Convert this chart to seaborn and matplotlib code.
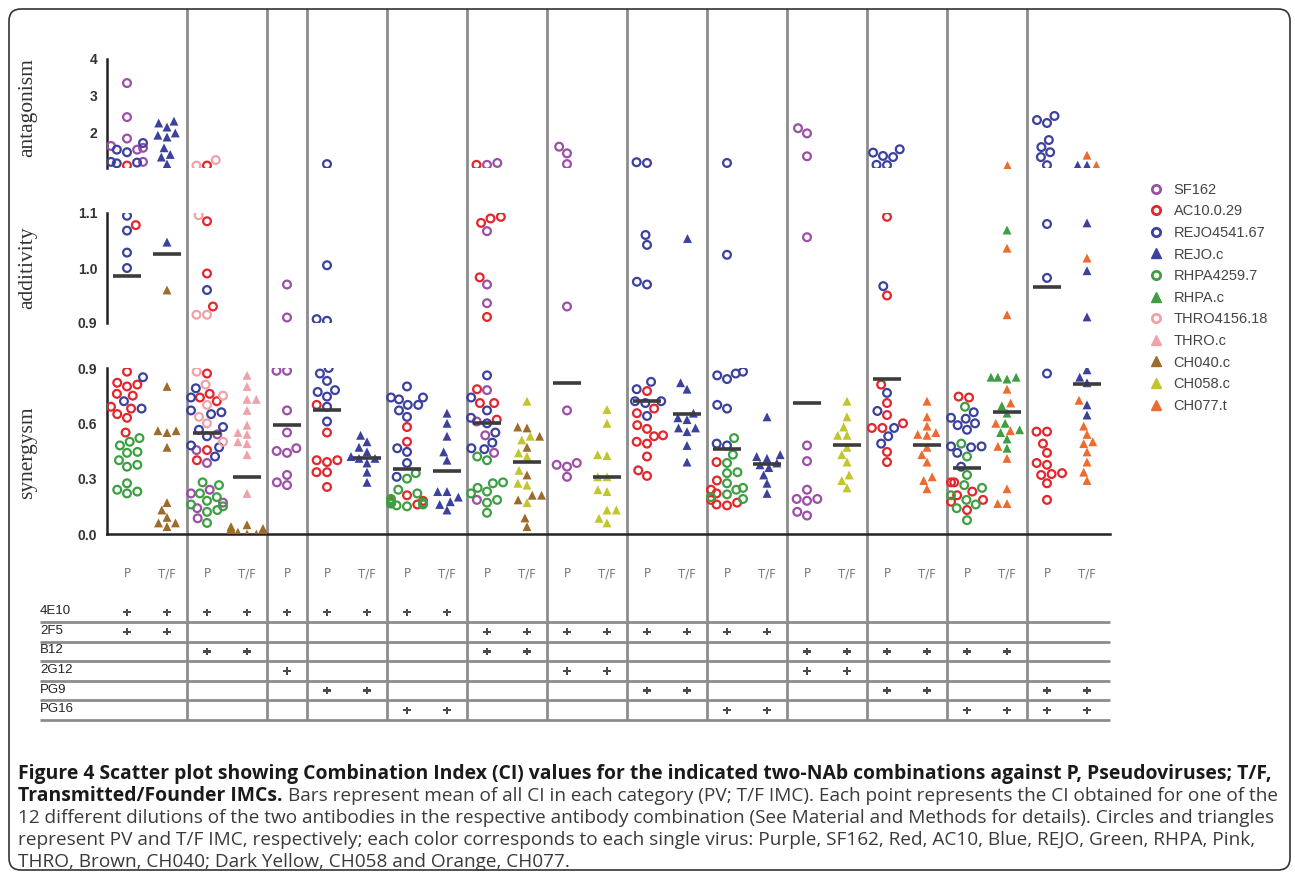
import numpy as np
import pandas as pd
import seaborn as sns
import matplotlib.pyplot as plt
from matplotlib.lines import Line2D
from matplotlib.patches import FancyBboxPatch
from matplotlib.ticker import MultipleLocator

# antibody pairs, left to right (False = pair has no T/F column)
combos = ["4E10+2F5", "4E10+B12", "4E10+2G12", "4E10+PG9", "4E10+PG16",
          "2F5+B12", "2F5+2G12", "2F5+PG9", "2F5+PG16",
          "B12+2G12", "B12+PG9", "B12+PG16", "PG9+PG16"]
has_tf = [True, True, False, True, True, True, True, True, True, True, True, True, True]
antibodies = ["4E10", "2F5", "B12", "2G12", "PG9", "PG16"]

# CI values, per virus and antibody pair
sf162 = {
    "4E10+2F5": [3.35, 2.43, 1.85, 1.65, 1.60, 1.55, 1.22],
    "4E10+B12": [0.54, 0.455, 0.385, 0.24, 0.22, 0.17, 0.14, 0.085],
    "4E10+2G12": [0.97, 0.91, 0.885, 0.885, 0.67, 0.55, 0.465, 0.45, 0.44, 0.32, 0.28, 0.265],
    "2F5+B12": [1.19, 1.14, 1.067, 0.97, 0.936, 0.78, 0.61, 0.535, 0.44, 0.185],
    "2F5+2G12": [1.63, 1.45, 1.16, 0.93, 0.67, 0.385, 0.375, 0.365, 0.31],
    "B12+2G12": [2.13, 1.99, 1.37, 1.056, 0.48, 0.395, 0.24, 0.19, 0.19, 0.18, 0.12, 0.10],
}
ac10 = {
    "4E10+2F5": [1.12, 1.078, 0.88, 0.82, 0.81, 0.80, 0.76, 0.75, 0.69, 0.68, 0.65, 0.63, 0.55],
    "4E10+B12": [1.12, 1.085, 0.99, 0.93, 0.87, 0.76, 0.74, 0.72, 0.455, 0.40],
    "4E10+PG9": [0.70, 0.55, 0.40, 0.39, 0.40, 0.335, 0.335, 0.255],
    "4E10+PG16": [0.58, 0.50, 0.21, 0.18, 0.17, 0.16, 0.17],
    "2F5+B12": [1.14, 1.09, 1.082, 1.093, 0.983, 0.911, 0.785, 0.71, 0.71, 0.62],
    "2F5+PG9": [0.775, 0.68, 0.655, 0.59, 0.57, 0.53, 0.535, 0.49, 0.50, 0.42, 0.345, 0.315],
    "2F5+PG16": [0.39, 0.29, 0.24, 0.22, 0.185, 0.17, 0.155, 0.16],
    "B12+PG9": [1.093, 0.95, 0.81, 0.71, 0.645, 0.60, 0.575, 0.575, 0.445, 0.39],
    "B12+PG16": [0.74, 0.745, 0.28, 0.28, 0.23, 0.21, 0.175, 0.185, 0.13],
    "PG9+PG16": [0.555, 0.555, 0.49, 0.44, 0.375, 0.385, 0.32, 0.33, 0.325, 0.275, 0.185],
}
rejo = {
    "4E10+2F5": [1.73, 1.55, 1.48, 1.22, 1.20, 1.18, 1.095, 1.068, 1.028, 1.0, 0.85, 0.72, 0.68],
    "4E10+B12": [0.96, 0.79, 0.74, 0.67, 0.66, 0.65, 0.58, 0.565, 0.53, 0.48, 0.47, 0.42],
    "4E10+PG9": [1.16, 1.005, 0.907, 0.904, 0.90, 0.87, 0.83, 0.78, 0.77, 0.745, 0.69, 0.61],
    "4E10+PG16": [0.80, 0.74, 0.74, 0.73, 0.70, 0.70, 0.67, 0.635, 0.465, 0.445, 0.385, 0.31],
    "2F5+B12": [0.86, 0.74, 0.67, 0.63, 0.60, 0.55, 0.495, 0.465, 0.46],
    "2F5+PG9": [1.21, 1.19, 1.06, 1.042, 0.975, 0.97, 0.825, 0.785, 0.72, 0.71, 0.72, 0.64],
    "2F5+PG16": [1.19, 1.024, 0.88, 0.87, 0.84, 0.86, 0.70, 0.68, 0.49, 0.48],
    "B12+PG9": [1.56, 1.47, 1.38, 1.35, 1.14, 1.13, 0.967, 0.765, 0.667, 0.53, 0.49, 0.575],
    "B12+PG16": [0.63, 0.625, 0.59, 0.565, 0.475, 0.47, 0.475, 0.44, 0.365, 0.60, 0.66],
    "PG9+PG16": [2.46, 2.35, 2.27, 1.81, 1.62, 1.48, 1.35, 1.13, 1.08, 0.982, 0.87],
}
rhpa = {
    "4E10+2F5": [0.52, 0.50, 0.48, 0.445, 0.44, 0.40, 0.375, 0.365, 0.275, 0.24, 0.23, 0.22],
    "4E10+B12": [0.28, 0.265, 0.22, 0.18, 0.16, 0.15, 0.06, 0.20, 0.13, 0.12],
    "4E10+PG16": [0.33, 0.30, 0.24, 0.22, 0.18, 0.17, 0.16, 0.15, 0.155, 0.19, 0.165],
    "2F5+B12": [0.42, 0.40, 0.28, 0.275, 0.23, 0.22, 0.185, 0.115, 0.25, 0.17],
    "2F5+PG16": [0.52, 0.43, 0.385, 0.33, 0.335, 0.275, 0.24, 0.25, 0.215, 0.20, 0.19],
    "B12+PG16": [0.69, 0.49, 0.42, 0.32, 0.265, 0.25, 0.185, 0.14, 0.075, 0.21, 0.16],
}
thro = {
    "4E10+B12": [1.27, 1.12, 1.096, 0.915, 0.915, 0.88, 0.81, 0.75, 0.70, 0.635, 0.60, 0.50],
}
rejo_c = {
    "4E10+2F5": [2.32, 2.27, 2.16, 2.0, 1.94, 1.89, 1.6, 1.42, 1.35, 1.16, 1.047],
    "4E10+PG9": [0.535, 0.50, 0.47, 0.445, 0.42, 0.41, 0.41, 0.385, 0.335, 0.28],
    "4E10+PG16": [0.655, 0.60, 0.53, 0.445, 0.40, 0.23, 0.23, 0.20, 0.175, 0.16, 0.13],
    "2F5+PG9": [1.055, 0.82, 0.785, 0.655, 0.63, 0.62, 0.575, 0.575, 0.555, 0.48, 0.39],
    "2F5+PG16": [0.635, 0.43, 0.42, 0.41, 0.385, 0.375, 0.36, 0.32, 0.275, 0.22],
    "PG9+PG16": [1.13, 1.13, 1.082, 0.995, 0.911, 0.89, 0.85, 0.82, 0.70, 0.645],
}
rhpa_c = {
    "B12+PG16": [1.069, 0.85, 0.85, 0.85, 0.84, 0.695, 0.655, 0.565, 0.55, 0.515, 0.465, 0.60],
}
thro_c = {
    "4E10+B12": [0.86, 0.80, 0.73, 0.73, 0.67, 0.59, 0.55, 0.54, 0.50, 0.49, 0.43, 0.22],
}
ch040 = {
    "4E10+2F5": [0.96, 0.80, 0.56, 0.56, 0.55, 0.47, 0.17, 0.13, 0.09, 0.06, 0.04, 0.06],
    "4E10+B12": [0.05, 0.04, 0.03, 0.03, 0.02, 0.02, 0.02, 0.01, 0.01, 0.01, 0.0, 0.0],
    "2F5+B12": [0.58, 0.575, 0.53, 0.47, 0.32, 0.21, 0.21, 0.185, 0.087, 0.04],
}
ch058 = {
    "2F5+B12": [0.72, 0.53, 0.51, 0.44, 0.42, 0.345, 0.275, 0.265, 0.17],
    "2F5+2G12": [0.675, 0.60, 0.43, 0.425, 0.31, 0.31, 0.24, 0.23, 0.13, 0.13, 0.085, 0.06],
    "B12+2G12": [0.72, 0.635, 0.58, 0.535, 0.535, 0.47, 0.43, 0.39, 0.32, 0.29, 0.25],
}
ch077 = {
    "B12+PG9": [0.72, 0.635, 0.585, 0.55, 0.54, 0.535, 0.47, 0.43, 0.39, 0.31, 0.29, 0.245],
    "B12+PG16": [1.13, 1.036, 0.915, 0.785, 0.71, 0.60, 0.56, 0.475, 0.41, 0.245, 0.165, 0.165],
    "PG9+PG16": [1.40, 1.13, 1.018, 0.725, 0.585, 0.54, 0.50, 0.49, 0.445, 0.39, 0.335, 0.29],
}

# mean bar of every column, left to right
mean_ci = [0.985, 1.025, 0.55, 0.31, 0.59, 0.67, 0.41, 0.35, 0.34, 0.60, 0.39, 0.82, 0.31,
           0.72, 0.65, 0.46, 0.38, 0.71, 0.48, 0.84, 0.48, 0.36, 0.66, 0.965, 0.815]

pv_names = ["SF162", "AC10.0.29", "REJO4541.67", "RHPA4259.7", "THRO4156.18"]
tf_names = ["REJO.c", "RHPA.c", "THRO.c", "CH040.c", "CH058.c", "CH077.t"]
legend_order = ["SF162", "AC10.0.29", "REJO4541.67", "REJO.c", "RHPA4259.7", "RHPA.c",
                "THRO4156.18", "THRO.c", "CH040.c", "CH058.c", "CH077.t"]
colors = {"SF162": "#9b4fa6", "AC10.0.29": "#e4262c", "REJO4541.67": "#3b419d",
          "REJO.c": "#3b419d", "RHPA4259.7": "#3d9f42", "RHPA.c": "#3d9f42",
          "THRO4156.18": "#f0a2aa", "THRO.c": "#f0a2aa", "CH040.c": "#9c6c2c",
          "CH058.c": "#c3c52c", "CH077.t": "#ee6a2e"}
all_data = {"SF162": sf162, "AC10.0.29": ac10, "REJO4541.67": rejo, "RHPA4259.7": rhpa,
            "THRO4156.18": thro, "REJO.c": rejo_c, "RHPA.c": rhpa_c, "THRO.c": thro_c,
            "CH040.c": ch040, "CH058.c": ch058, "CH077.t": ch077}

# columns of the plot: P (and T/F) for each pair
slots = []
for combo, tf in zip(combos, has_tf):
    slots.append(combo + " P")
    if tf:
        slots.append(combo + " T/F")

rows = []
for virus, d in all_data.items():
    kind = "T/F" if virus in tf_names else "P"
    for combo, vals in d.items():
        for v in vals:
            rows.append((combo + " " + kind, virus, kind, v))
df = pd.DataFrame(rows, columns=["slot", "virus", "kind", "ci"])
df["panel"] = np.select([df.ci > 1.1, df.ci > 0.9], ["ant", "add"], "syn")

sns.set_style("white")
plt.rcParams["font.family"] = ["Liberation Sans", "DejaVu Sans"]

W, H = 1295, 873
fig = plt.figure(figsize=(W / 100, H / 100), dpi=100)


def box(x0, y0, x1, y1):
    # pixel box (top-left origin) -> figure fraction
    return [x0 / W, 1 - y1 / H, (x1 - x0) / W, (y1 - y0) / H]


XL, XR = 107, 1110
xlim = ((XL - 127) / 40, (XR - 127) / 40)

# background: group separators
bg = fig.add_axes(box(XL, 9, XR, 720), zorder=0)
bg.set_xlim(xlim)
bg.axis("off")
ends = np.cumsum([2 if t else 1 for t in has_tf])
for e in ends[:-1]:
    bg.axvline(e - 0.5, color="#8c8c8c", lw=2)

panels = {"ant": (59, 168, (1.054, 4.0)), "add": (213, 323, (0.9, 1.1)), "syn": (368, 534, (0.0, 0.9))}
axes = {}
for name, (top, bot, lim) in panels.items():
    ax = fig.add_axes(box(XL, top, XR, bot), zorder=2)
    ax.patch.set_alpha(0)
    sub = df[df.panel == name]
    n0 = len(ax.collections)
    sns.swarmplot(data=sub[sub.kind == "P"], x="slot", y="ci", hue="virus", order=slots,
                  hue_order=pv_names, palette=colors, marker="o", size=5.6, linewidth=0,
                  legend=False, warn_thresh=1, ax=ax)
    for coll in ax.collections[n0:]:
        fc = coll.get_facecolors()
        coll.set_edgecolors(fc)
        coll.set_facecolors("none")
        coll.set_linewidth(1.6)
    sns.swarmplot(data=sub[sub.kind == "T/F"], x="slot", y="ci", hue="virus", order=slots,
                  hue_order=tf_names, palette=colors, marker="^", size=6.4, linewidth=0,
                  legend=False, warn_thresh=1, ax=ax)
    axes[name] = ax

for i, m in enumerate(mean_ci):
    name = "ant" if m > 1.1 else ("add" if m > 0.9 else "syn")
    axes[name].hlines(m, i - 0.36, i + 0.36, color="#3c3c3c", lw=2.6, zorder=5)

ytick_sets = {"ant": ([1.054, 2, 3, 4], ["", "2", "3", "4"]),
              "add": ([0.9, 1.0, 1.1], ["0.9", "1.0", "1.1"]),
              "syn": ([0.0, 0.3, 0.6, 0.9], ["0.0", "0.3", "0.6", "0.9"])}
for name, ax in axes.items():
    ax.set_xlim(xlim)
    ax.set_ylim(*panels[name][2])
    ax.set_xlabel("")
    ax.set_ylabel("")
    ax.spines[["top", "right"]].set_visible(False)
    ax.spines["left"].set_linewidth(1.8)
    ax.spines["left"].set_color("#222222")
    ticks, labels = ytick_sets[name]
    ax.set_yticks(ticks, labels, fontweight="bold", fontsize=10, color="#333333")
    ax.tick_params(axis="y", length=5, width=1.5, color="#222222", pad=2)
    if name != "syn":
        ax.spines["bottom"].set_visible(False)
        ax.tick_params(axis="x", bottom=False, labelbottom=False)

syn = axes["syn"]
syn.spines["bottom"].set_linewidth(1.8)
syn.spines["bottom"].set_color("#222222")
syn.yaxis.set_minor_locator(MultipleLocator(0.03))
syn.tick_params(axis="y", which="minor", length=3, width=1, color="#222222")
syn.set_xticks(range(len(slots)), [s.split(" ")[1] for s in slots],
               fontsize=8.5, color="#777777", family="DejaVu Sans")
syn.tick_params(axis="x", length=5, width=1.2, color="#444444", pad=19)

# antibody table under the plot
tab = fig.add_axes(box(XL, 602.4, XR, 720), zorder=1)
tab.patch.set_alpha(0)
x_left = (40 - 127) / 40
dots = []
for i, s in enumerate(slots):
    for ab in s.split(" ")[0].split("+"):
        dots.append((i, antibodies.index(ab) + 0.5))
dots = pd.DataFrame(dots, columns=["x", "row"])
sns.scatterplot(data=dots, x="x", y="row", marker="P", s=26, color="#4a4a4a",
                edgecolor="none", legend=False, ax=tab)
for r, ab in enumerate(antibodies):
    tab.hlines(r + 1, x_left, xlim[1], color="#8c8c8c", lw=2, clip_on=False)
    tab.text(x_left, r + 0.45, ab, ha="left", va="center", fontsize=9.5, color="#222222",
             clip_on=False)
tab.set_xlim(xlim)
tab.set_ylim(6, 0)
tab.axis("off")

# side labels
for label, yc in [("antagonism", 108), ("additivity", 268), ("synergysm", 453)]:
    fig.text(28 / W, 1 - yc / H, label, rotation=90, ha="center", va="center",
             family="Liberation Serif", fontsize=15.5, color="#333333")

# legend
handles = []
for v in legend_order:
    c = colors[v]
    if v in tf_names:
        handles.append(Line2D([], [], ls="none", marker="^", ms=7, mfc=c, mec=c))
    else:
        handles.append(Line2D([], [], ls="none", marker="o", ms=6, mfc="none", mec=c, mew=2))
fig.legend(handles, legend_order, loc="upper left", bbox_to_anchor=(1143 / W, 1 - 177 / H),
           frameon=False, fontsize=10.5, labelspacing=0.52, handlelength=1.0,
           handletextpad=0.7, labelcolor="#444444", borderaxespad=0)

# outer frame
fig.add_artist(FancyBboxPatch((0.09, 0.03), 12.81, 8.61, boxstyle="round,pad=0,rounding_size=0.12",
                              transform=fig.dpi_scale_trans, fill=False, ec="#333333", lw=1.2))

# caption
renderer = fig.canvas.get_renderer()
bold = dict(family="Open Sans", fontweight="bold", color="#1a1a1a", va="center", ha="left")
reg = dict(family="Open Sans", color="#3a3a3a", va="center", ha="left")
cap_x, cap_w = 18, 1254
line_y = [774, 796, 818, 840, 862]

t1 = fig.text(cap_x / W, 1 - line_y[0] / H,
              "Figure 4 Scatter plot showing Combination Index (CI) values for the indicated "
              "two-NAb combinations against P, Pseudoviruses; T/F,", fontsize=12, **bold)
bsize = 12 * cap_w / t1.get_window_extent(renderer).width
t1.set_fontsize(bsize)
t3 = fig.text(cap_x / W, 1 - line_y[2] / H,
              "12 different dilutions of the two antibodies in the respective antibody "
              "combination (See Material and Methods for details). Circles and triangles",
              fontsize=12, **reg)
rsize = 12 * cap_w / t3.get_window_extent(renderer).width
t3.set_fontsize(rsize)
t2b = fig.text(cap_x / W, 1 - line_y[1] / H, "Transmitted/Founder IMCs.", fontsize=bsize, **bold)
wb = t2b.get_window_extent(renderer).width
fig.text((cap_x + wb + 5) / W, 1 - line_y[1] / H,
         "Bars represent mean of all CI in each category (PV; T/F IMC). Each point represents "
         "the CI obtained for one of the", fontsize=rsize, **reg)
fig.text(cap_x / W, 1 - line_y[3] / H,
         "represent PV and T/F IMC, respectively; each color corresponds to each single virus: "
         "Purple, SF162, Red, AC10, Blue, REJO, Green, RHPA, Pink,", fontsize=rsize, **reg)
fig.text(cap_x / W, 1 - line_y[4] / H,
         "THRO, Brown, CH040; Dark Yellow, CH058 and Orange, CH077.", fontsize=rsize, **reg)

fig.savefig("out.png", dpi=100)
